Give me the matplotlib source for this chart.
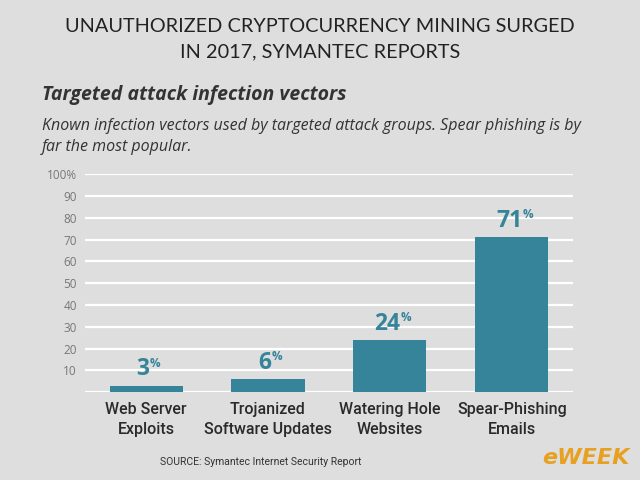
import matplotlib.pyplot as plt

categories = ["Web Server\nExploits", "Trojanized\nSoftware Updates",
              "Watering Hole\nWebsites", "Spear-Phishing\nEmails"]
values = [3, 6, 24, 71]
yticks = [10, 20, 30, 40, 50, 60, 70, 80, 90, 100]
ytick_labels = ["10", "20", "30", "40", "50", "60", "70", "80", "90", "100%"]

bg = "#dedede"
teal = "#35849a"

fig = plt.figure(figsize=(6.4, 4.8), dpi=100, facecolor=bg)
ax = fig.add_axes([0.133, 0.183, 0.762, 0.4542], facecolor=bg)

# white grid lines, including the baseline
for y in [0] + yticks:
    ax.axhline(y, color="white", lw=1.6, zorder=1)

x = range(len(values))
ax.bar(x, values, width=0.6, color=teal, zorder=2)

for i, v in enumerate(values):
    dx = 5.5 * len(str(v)) - 3.5
    ax.annotate(str(v), (i, v), xytext=(dx, 3), textcoords="offset points",
                ha="right", va="bottom", fontsize=16.5, fontweight="bold",
                color=teal, family="Open Sans")
    ax.annotate("%", (i, v), xytext=(dx + 0.5, 11.5),
                textcoords="offset points", ha="left", va="bottom",
                fontsize=8.5, fontweight="bold", color=teal, family="Open Sans")

ax.set_xlim(-0.5, 3.5)
ax.set_ylim(0, 100)
ax.set_yticks(yticks)
ax.set_yticklabels(ytick_labels, fontsize=8.5, color="#777777", family="Open Sans")
ax.set_xticks(list(x))
ax.set_xticklabels(categories, fontsize=11.5, color="#2a2a2a", fontweight="medium",
                   family="Roboto", linespacing=1.45)
ax.tick_params(axis="both", length=0)
ax.tick_params(axis="y", pad=6)
ax.tick_params(axis="x", pad=7)
for s in ax.spines.values():
    s.set_visible(False)

fig.text(0.5, 0.962, "UNAUTHORIZED CRYPTOCURRENCY MINING SURGED\nIN 2017, SYMANTEC REPORTS",
         ha="center", va="top", fontsize=14.3, color="#222222", family="Lato",
         linespacing=1.55)
fig.text(0.066, 0.802, "Targeted attack infection vectors", ha="left", va="center",
         fontsize=14, fontweight="bold", style="italic", color="#333333",
         family="Open Sans")
fig.text(0.066, 0.716, "Known infection vectors used by targeted attack groups. Spear phishing is by\nfar the most popular.",
         ha="left", va="center", fontsize=11.5, style="italic", color="#333333",
         family="Open Sans", linespacing=1.45)
fig.text(0.408, 0.037, "SOURCE: Symantec Internet Security Report", ha="center", va="center",
         fontsize=7.5, color="#333333", family="Roboto")
fig.text(0.983, 0.045, "eWEEK", ha="right", va="center", fontsize=16, fontweight="bold",
         style="italic", color="#e8a020", family="DejaVu Sans")

fig.savefig("out.png", dpi=100, facecolor=bg)
